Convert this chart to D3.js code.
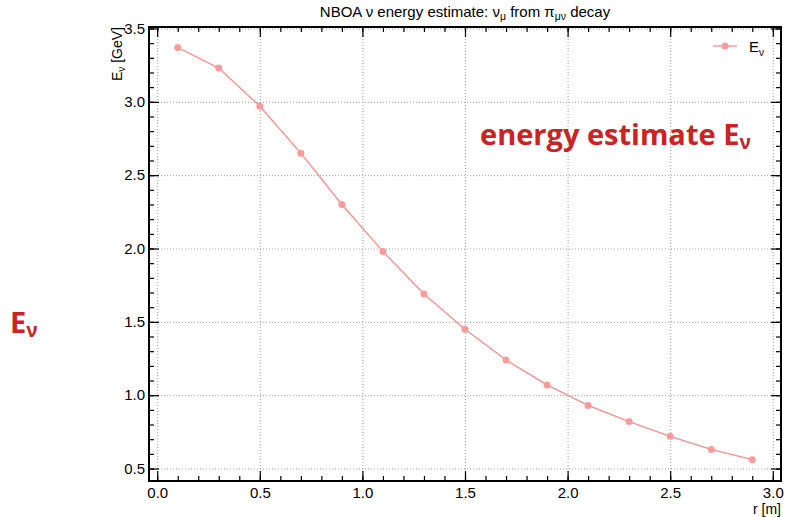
<!DOCTYPE html>
<html>
<head>
<meta charset="utf-8">
<script src="https://cdn.jsdelivr.net/npm/d3@7"></script>
<style>
  body { margin: 0; background: #fff; }
  svg { display: block; }
  .axis text { font-family: "Liberation Sans", Arial, sans-serif; font-size: 15px; fill: #000; }
  .axis path { display: none; }
  .axis line { stroke: #000; stroke-width: 1.2; }
  .grid line { stroke: #888; stroke-width: 0.8; stroke-dasharray: 1,2; }
  .grid path { display: none; }
</style>
</head>
<body>
<script>

// valores
var rValues = [0.1, 0.3, 0.5, 0.7, 0.9, 1.1, 1.3, 1.5, 1.7, 1.9, 2.1, 2.3, 2.5, 2.7, 2.9];
var energyValues = [3.37, 3.23, 2.97, 2.65, 2.30, 1.98, 1.69, 1.45, 1.24, 1.07, 0.93, 0.82, 0.72, 0.63, 0.56];
var xTicks = [0.0, 0.5, 1.0, 1.5, 2.0, 2.5, 3.0];
var yTicks = [0.5, 1.0, 1.5, 2.0, 2.5, 3.0, 3.5];

var W = 786, H = 517;
var margin = {top: 27, right: 5, bottom: 36, left: 149},
    width = W - margin.left - margin.right,
    height = H - margin.top - margin.bottom;

var x = d3.scaleLinear().domain([-0.04, 3.04]).range([0, width]);
var y = d3.scaleLinear().domain([0.415, 3.51]).range([height, 0]);

var xMinor = d3.range(0, 3.05, 0.1).map(function(d) { return +d.toFixed(1); });
var yMinor = d3.range(0.5, 3.55, 0.1).map(function(d) { return +d.toFixed(1); });

var svg = d3.select("body").append("svg")
    .attr("width", W)
    .attr("height", H);

var g = svg.append("g")
    .attr("transform", "translate(" + margin.left + "," + margin.top + ")");

// grade pontilhada
g.append("g").attr("class", "grid")
    .attr("transform", "translate(0," + height + ")")
    .call(d3.axisBottom(x).tickValues(xTicks).tickSize(-height).tickFormat(""));
g.append("g").attr("class", "grid")
    .call(d3.axisLeft(y).tickValues(yTicks).tickSize(-width).tickFormat(""));

// eixos com ticks para dentro
function fmt(d) { return d.toFixed(1); }

g.append("g").attr("class", "axis")
    .attr("transform", "translate(0," + height + ")")
    .call(d3.axisBottom(x).tickValues(xTicks).tickSize(-10).tickPadding(6).tickFormat(fmt));
g.append("g").attr("class", "axis")
    .attr("transform", "translate(0," + height + ")")
    .call(d3.axisBottom(x).tickValues(xMinor).tickSize(-5).tickFormat(""));
g.append("g").attr("class", "axis")
    .call(d3.axisTop(x).tickValues(xTicks).tickSize(-10).tickFormat(""));
g.append("g").attr("class", "axis")
    .call(d3.axisTop(x).tickValues(xMinor).tickSize(-5).tickFormat(""));

g.append("g").attr("class", "axis")
    .call(d3.axisLeft(y).tickValues(yTicks).tickSize(-10).tickPadding(4).tickFormat(fmt));
g.append("g").attr("class", "axis")
    .call(d3.axisLeft(y).tickValues(yMinor).tickSize(-5).tickFormat(""));
g.append("g").attr("class", "axis")
    .attr("transform", "translate(" + width + ",0)")
    .call(d3.axisRight(y).tickValues(yTicks).tickSize(-10).tickFormat(""));
g.append("g").attr("class", "axis")
    .attr("transform", "translate(" + width + ",0)")
    .call(d3.axisRight(y).tickValues(yMinor).tickSize(-5).tickFormat(""));

// moldura
g.append("rect")
    .attr("width", width)
    .attr("height", height)
    .attr("fill", "none")
    .attr("stroke", "#000")
    .attr("stroke-width", 2);

// série
var data = rValues.map(function(r, i) { return {r: r, e: energyValues[i]}; });
var line = d3.line()
    .x(function(d) { return x(d.r); })
    .y(function(d) { return y(d.e); });

g.append("path")
    .datum(data)
    .attr("fill", "none")
    .attr("stroke", "#ff8c8c")
    .attr("stroke-width", 1.3)
    .attr("d", line);

g.selectAll(".dot")
    .data(data)
    .enter().append("circle")
    .attr("class", "dot")
    .attr("r", 3.5)
    .attr("fill", "#ff9a9a")
    .attr("cx", function(d) { return x(d.r); })
    .attr("cy", function(d) { return y(d.e); });

// legenda
var leg = g.append("g").attr("transform", "translate(" + (width - 68) + ",19)");
leg.append("line").attr("x1", 0).attr("x2", 24).attr("y1", 0).attr("y2", 0)
    .attr("stroke", "#ff8c8c").attr("stroke-width", 1.3);
leg.append("circle").attr("cx", 12).attr("cy", 0).attr("r", 3.5).attr("fill", "#ff9a9a");
var lt = leg.append("text").attr("x", 36).attr("y", 6)
    .style("font-family", "Liberation Sans, Arial, sans-serif").style("font-size", "15px");
lt.append("tspan").text("E");
lt.append("tspan").attr("dy", 4).style("font-size", "10px").text("ν");

// título
var title = svg.append("text")
    .attr("x", margin.left + width / 2)
    .attr("y", 17)
    .attr("text-anchor", "middle")
    .style("font-family", "Liberation Sans, Arial, sans-serif")
    .style("font-size", "15px");
title.append("tspan").text("NBOA ν energy estimate: ν");
title.append("tspan").attr("dy", 3).style("font-size", "10.5px").text("μ");
title.append("tspan").attr("dy", -3).text(" from π");
title.append("tspan").attr("dy", 3).style("font-size", "10.5px").text("μν");
title.append("tspan").attr("dy", -3).text(" decay");

// rótulos dos eixos
var yl = svg.append("text")
    .attr("transform", "translate(122," + margin.top + ") rotate(-90)")
    .attr("text-anchor", "end")
    .style("font-family", "Liberation Sans, Arial, sans-serif")
    .style("font-size", "14px");
yl.append("tspan").text("E");
yl.append("tspan").attr("dy", 3).style("font-size", "10px").text("ν");
yl.append("tspan").attr("dy", -3).text(" [GeV]");

svg.append("text")
    .attr("x", margin.left + width)
    .attr("y", 514)
    .attr("text-anchor", "end")
    .style("font-family", "Liberation Sans, Arial, sans-serif")
    .style("font-size", "14px")
    .text("r [m]");

// anotações em vermelho
var a1 = svg.append("text")
    .attr("x", 480)
    .attr("y", 145)
    .attr("fill", "#cc2222")
    .style("font-family", "Open Sans, sans-serif")
    .style("font-weight", "bold")
    .style("font-size", "29px");
a1.append("tspan").text("energy estimate E");
a1.append("tspan").attr("dy", 4).style("font-size", "19px").text("ν");

var a2 = svg.append("text")
    .attr("x", 10)
    .attr("y", 333)
    .attr("fill", "#cc2222")
    .style("font-family", "Open Sans, sans-serif")
    .style("font-weight", "bold")
    .style("font-size", "29px");
a2.append("tspan").text("E");
a2.append("tspan").attr("dy", 4).style("font-size", "19px").text("ν");

</script>
</body>
</html>
